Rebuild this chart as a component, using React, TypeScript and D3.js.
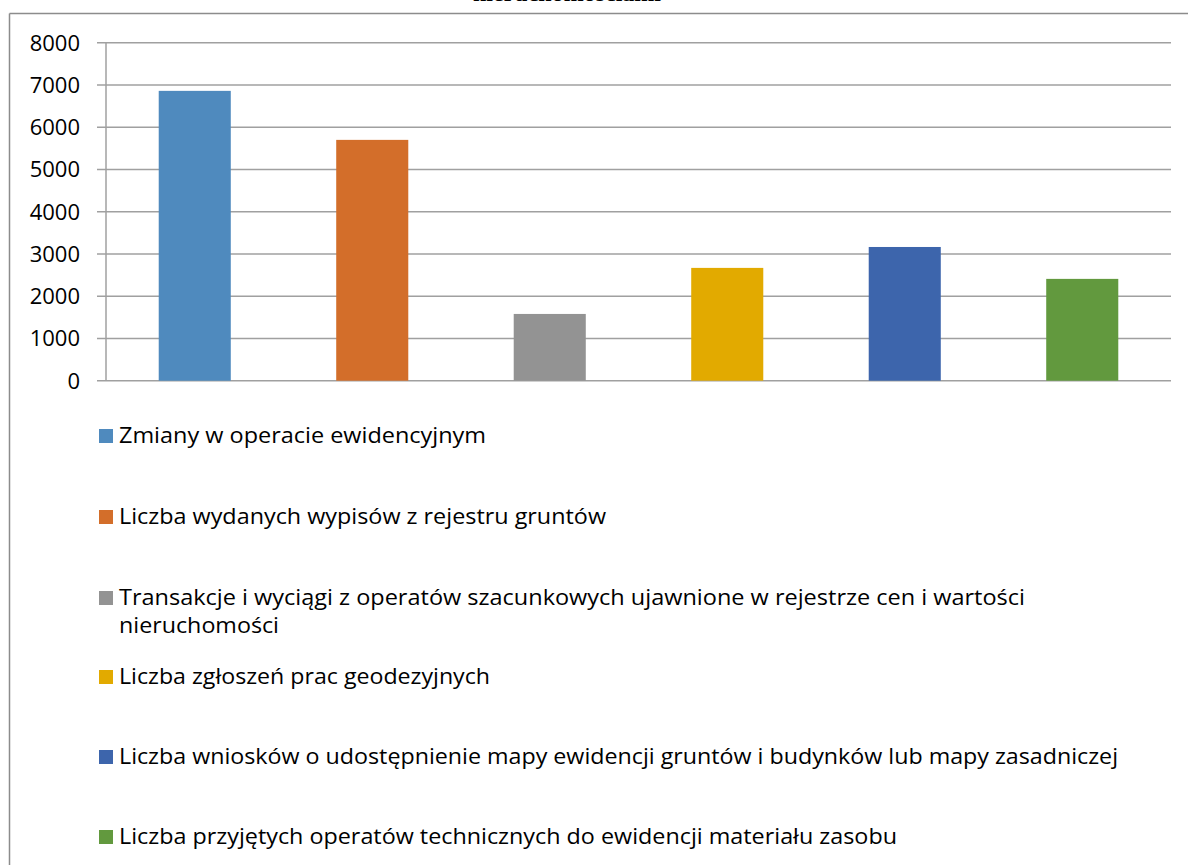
import React from "react";
import * as d3 from "d3";

const categories = [
  "Zmiany w operacie ewidencyjnym",
  "Liczba wydanych wypisów z rejestru gruntów",
  "Transakcje i wyciągi z operatów szacunkowych ujawnione w rejestrze cen i wartości nieruchomości",
  "Liczba zgłoszeń prac geodezyjnych",
  "Liczba wniosków o udostępnienie mapy ewidencji gruntów i budynków lub mapy zasadniczej",
  "Liczba przyjętych operatów technicznych do ewidencji materiału zasobu",
];
const values = [6860, 5700, 1580, 2670, 3165, 2410];
const colors = ["#4F8ABE", "#D36E2A", "#939393", "#E2AA00", "#3D65AC", "#62993E"];
const yTicks = [0, 1000, 2000, 3000, 4000, 5000, 6000, 7000, 8000];
const legendLines = [
  ["Zmiany w operacie ewidencyjnym"],
  ["Liczba wydanych wypisów z rejestru gruntów"],
  ["Transakcje i wyciągi z operatów szacunkowych ujawnione w rejestrze cen i wartości", "nieruchomości"],
  ["Liczba zgłoszeń prac geodezyjnych"],
  ["Liczba wniosków o udostępnienie mapy ewidencji gruntów i budynków lub mapy zasadniczej"],
  ["Liczba przyjętych operatów technicznych do ewidencji materiału zasobu"],
];
const legendWidths = [[367], [487], [906, 160], [371], [999], [778]];
const titleTail = "nieruchomościami";

export default function App() {
  const W = 1188, H = 865;
  const plotL = 106, plotR = 1171, plotT = 42.7, plotB = 380.7;
  const y = d3.scaleLinear().domain([0, 8000]).range([plotB, plotT]);
  const x = d3
    .scaleBand<number>()
    .domain(values.map((_, i) => i))
    .range([plotL, plotR])
    .paddingInner(0.594)
    .paddingOuter(0.297);
  const font = "'Open Sans', sans-serif";
  const legendBaselines = [443, 524, 605, 684, 764, 844];
  const gridColor = "#a0a0a0";

  return (
    <svg
      width={W}
      height={H}
      style={{ position: "absolute", left: 0, top: 0, background: "#fff" }}
      fontFamily={font}
    >
      <rect x={0} y={0} width={W} height={H} fill="#fff" />
      {/* chart border */}
      <line x1={9.5} y1={13.5} x2={W} y2={13.5} stroke="#8c8c8c" strokeWidth={1.5} />
      <line x1={9.5} y1={13.5} x2={9.5} y2={H} stroke="#8c8c8c" strokeWidth={1.5} />
      {/* title (cut off at top edge, as in the reference) */}
      <text x={567} y={0.5} textAnchor="middle" fontWeight="bold" fontSize={24} fontFamily="'Liberation Serif', serif">
        {titleTail}
      </text>
      {/* gridlines & ticks */}
      {yTicks.map((t) => (
        <g key={t}>
          <line x1={97} x2={plotR} y1={y(t)} y2={y(t)} stroke={gridColor} strokeWidth={1.5} />
          <text x={80} y={y(t) + 8} textAnchor="end" fontSize={22} fill="#000">
            {t}
          </text>
        </g>
      ))}
      <line x1={plotL} x2={plotL} y1={plotT} y2={plotB} stroke={gridColor} strokeWidth={1.5} />
      {/* bars */}
      {values.map((v, i) => (
        <rect
          key={i}
          x={x(i)}
          y={y(v)}
          width={x.bandwidth()}
          height={plotB - y(v)}
          fill={colors[i]}
        />
      ))}
      {/* legend */}
      {categories.map((c, i) => {
        const b = legendBaselines[i];
        return (
          <g key={c}>
            <rect x={99} y={b - 14} width={14} height={14} fill={colors[i]} />
            {legendLines[i].map((ln, j) => (
              <text
                key={j}
                x={119}
                y={b + j * 28}
                fontSize={21.5}
                fill="#000"
                textLength={legendWidths[i][j]}
                lengthAdjust="spacingAndGlyphs"
              >
                {ln}
              </text>
            ))}
          </g>
        );
      })}
    </svg>
  );
}
